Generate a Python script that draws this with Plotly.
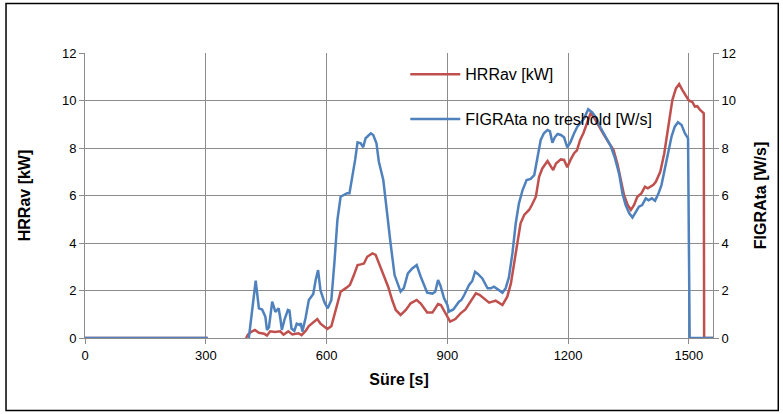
import plotly.graph_objects as go

# HRRav [kW] (red)
hrr_t = [0, 305, None, 400, 405, 412, 422, 432, 445, 452, 460, 472, 485, 493, 505, 515, 530, 538, 548, 556,
         565, 577, 585, 595, 602, 612, 623, 635, 648, 658, 668, 677, 685, 693, 701, 714, 722, 730, 741, 753,
         763, 772, 784, 797, 809, 824, 834, 850, 863, 877, 884, 890, 896, 907, 920, 933, 945, 958, 971, 980,
         991, 1004, 1012, 1020, 1037, 1049, 1058, 1066, 1074, 1082, 1091, 1103, 1110, 1120, 1128, 1136, 1149,
         1157, 1163, 1170, 1182, 1190, 1198, 1206, 1215, 1222, 1230, 1238, 1248, 1256, 1264, 1277, 1289, 1302,
         1313, 1323, 1331, 1339, 1348, 1356, 1364, 1372, 1382, 1391, 1398, 1406, 1412, 1418, 1429, 1439, 1451,
         1459, 1468, 1476, 1484, 1493, 1500, 1509, 1515, 1521, 1528, 1537, 1538, 1560]
hrr_v = [0, 0, None, 0, 0.15, 0.25, 0.34, 0.22, 0.18, 0.1, 0.28, 0.25, 0.28, 0.14, 0.28, 0.15, 0.2, 0.12, 0.3, 0.5,
         0.62, 0.8, 0.6, 0.48, 0.38, 0.5, 1.18, 1.95, 2.1, 2.23, 2.65, 3.07, 3.1, 3.14, 3.42, 3.56, 3.5, 3.14, 2.72, 2.16,
         1.6, 1.18, 0.97, 1.18, 1.46, 1.6, 1.45, 1.07, 1.07, 1.43, 1.39, 1.2, 1.04, 0.69, 0.8, 1.04, 1.2, 1.53, 1.88, 1.82,
         1.67, 1.49, 1.53, 1.57, 1.39, 1.74, 2.3, 3.14, 4.13, 4.83, 5.18, 5.39, 5.6, 5.95, 6.79, 7.14, 7.45,
         7.25, 7.07, 7.35, 7.52, 7.5, 7.19, 7.5, 7.78, 7.9, 8.34, 8.62, 9.11, 9.46, 9.3, 8.9, 8.55, 8.2,
         7.92, 7.3, 6.7, 6.02, 5.6, 5.39, 5.6, 5.95, 6.09, 6.37, 6.3, 6.4, 6.45, 6.58, 7.0, 7.78, 9.04,
         10.02, 10.51, 10.69, 10.44, 10.19, 10.0, 9.93, 9.74, 9.76, 9.6, 9.46, 0, 0]

# FIGRAta no treshold [W/s] (blue)
fig_t = [0, 305, None, 407, 415, 424, 432, 440, 448, 452, 457, 465, 473, 481, 485, 489, 496, 504, 508, 513, 520,
         526, 533, 536, 540, 548, 556, 567, 573, 579, 585, 595, 603, 612, 620, 627, 635, 643, 651, 657, 664,
         671, 677, 685, 691, 697, 710, 716, 724, 730, 741, 751, 759, 769, 777, 784, 792, 802, 813, 824, 834,
         850, 863, 870, 877, 883, 892, 900, 904, 915, 929, 935, 942, 954, 962, 969, 976, 987, 1000, 1008, 1016,
         1026, 1037, 1045, 1053, 1062, 1070, 1078, 1087, 1097, 1107, 1116, 1124, 1132, 1140, 1149, 1155, 1161,
         1167, 1174, 1182, 1190, 1198, 1206, 1215, 1223, 1231, 1240, 1250, 1260, 1271, 1281, 1294, 1306, 1316,
         1327, 1335, 1343, 1352, 1360, 1368, 1376, 1384, 1393, 1400, 1408, 1416, 1424, 1432, 1440, 1449, 1457,
         1465, 1473, 1482, 1490, 1498, 1502, 1560]
fig_v = [0, 0, None, 0, 1.2, 2.41, 1.25, 1.2, 0.9, 0.34, 0.45, 1.53, 1.1, 1.25, 0.85, 0.34, 0.8, 1.18, 1.15, 0.4, 0.3,
         0.6, 0.55, 0.62, 0.27, 0.85, 1.6, 1.85, 2.44, 2.86, 2.0, 1.5, 1.25, 1.6, 3.28, 4.97, 5.95, 6.02, 6.1, 6.1, 6.72,
         7.5, 8.24, 8.2, 8.03, 8.41, 8.62, 8.55, 8.2, 7.42, 6.65, 5.1, 3.99, 2.65, 2.3, 1.95, 2.1, 2.72, 2.93, 3.07, 2.58,
         1.91, 1.87, 1.95, 2.44, 2.2, 1.67, 1.4, 1.11, 1.2, 1.53, 1.6, 1.81, 2.23, 2.4, 2.79, 2.7, 2.51, 2.09, 2.09, 2.16,
         2.05, 1.91, 2.1, 2.55, 3.6, 4.83, 5.67, 6.23, 6.65, 6.7, 6.86, 7.63, 8.34, 8.62, 8.76, 8.7, 8.22,
         8.45, 8.59, 8.55, 8.45, 8.03, 8.25, 8.62, 8.9, 9.05, 9.25, 9.63, 9.5, 9.25, 8.85, 8.45, 8.08, 7.6,
         6.9, 6.09, 5.6, 5.25, 5.07, 5.3, 5.53, 5.6, 5.88, 5.8, 5.88, 5.78, 6.06, 6.44, 7.07, 7.78, 8.48,
         8.9, 9.08, 8.97, 8.62, 8.41, 0, 0]

x_ticks = [0, 300, 600, 900, 1200, 1500]
y_ticks = [0, 2, 4, 6, 8, 10, 12]

RED = "#C0504D"
BLUE = "#4F81BD"
GRID = "#8C8C8C"
FONT = "Liberation Sans, Arial, sans-serif"

fig = go.Figure()
fig.add_trace(go.Scatter(x=hrr_t, y=hrr_v, mode="lines", name="HRRav [kW]",
                         line=dict(color=RED, width=2.5), legendgroup="a", yaxis="y"))
fig.add_trace(go.Scatter(x=fig_t, y=fig_v, mode="lines", name="FIGRAta no treshold [W/s]",
                         line=dict(color=BLUE, width=2.5), legendgroup="b", yaxis="y2"))

axis_common = dict(showline=True, linecolor=GRID, linewidth=1, ticks="outside", ticklen=5,
                   tickcolor=GRID, zeroline=False, automargin=False,
                   tickfont=dict(family=FONT, size=13, color="#000"))

fig.update_layout(
    width=783, height=414,
    margin=dict(l=84.5, r=70.3, t=53, b=76, autoexpand=False),
    paper_bgcolor="white", plot_bgcolor="white",
    font=dict(family=FONT, color="#000"),
    xaxis=dict(range=[0, 1560], tickvals=x_ticks, showgrid=True, gridcolor=GRID, gridwidth=1,
               title=dict(text="<b>Süre [s]</b>", font=dict(family=FONT, size=16), standoff=12),
               **axis_common),
    yaxis=dict(range=[0, 12], tickvals=y_ticks, showgrid=True, gridcolor=GRID, gridwidth=1,
               title=dict(text="<b>HRRav [kW]</b>", font=dict(family=FONT, size=16), standoff=27),
               **axis_common),
    yaxis2=dict(range=[0, 12], tickvals=y_ticks, overlaying="y", side="right", showgrid=False,
                title=dict(text="<b>FIGRAta [W/s]</b>", font=dict(family=FONT, size=16), standoff=19),
                **axis_common),
    legend=dict(x=0.51, y=0.985, xanchor="left", yanchor="top", bgcolor="rgba(0,0,0,0)",
                font=dict(family=FONT, size=16, color="#000"), traceorder="grouped",
                tracegroupgap=21, itemwidth=50),
    showlegend=True,
    shapes=[dict(type="rect", xref="paper", yref="paper",
                 x0=(5.5 - 84.5) / 628.2, x1=(778 - 84.5) / 628.2,
                 y0=(338 - 410.5) / 285, y1=(338 - 3.5) / 285,
                 line=dict(color="#000", width=1.5), layer="below")],
)

fig.write_html("out.html", config={"displayModeBar": False},
               post_script="document.body.style.margin='0';document.body.style.overflow='hidden';")
